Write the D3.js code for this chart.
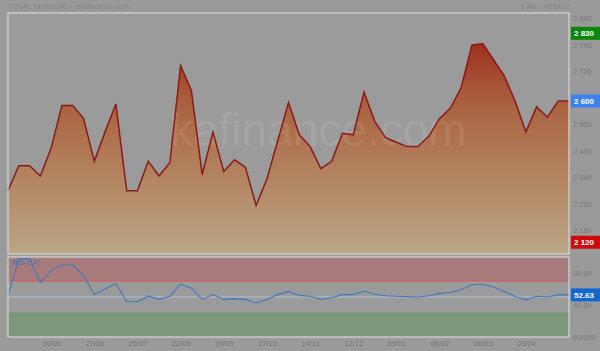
<!DOCTYPE html>
<html>
<head>
<meta charset="utf-8">
<script src="https://cdn.jsdelivr.net/npm/d3@7"></script>
<style>
  body { margin: 0; background: #9a9a9a; }
  svg { display: block; font-family: "Liberation Sans", Arial, sans-serif; }
</style>
</head>
<body>
<script>
// weekly closes, TOTAL SENEGAL, 1 year
var dates = ["2024-05-02","2024-05-09","2024-05-16","2024-05-23","2024-05-30","2024-06-06","2024-06-13","2024-06-20","2024-06-27",
  "2024-07-04","2024-07-11","2024-07-18","2024-07-25","2024-08-01","2024-08-08","2024-08-15","2024-08-22","2024-08-29",
  "2024-09-05","2024-09-12","2024-09-19","2024-09-26","2024-10-03","2024-10-10","2024-10-17","2024-10-24","2024-10-31",
  "2024-11-07","2024-11-14","2024-11-21","2024-11-28","2024-12-05","2024-12-12","2024-12-19","2024-12-26",
  "2025-01-02","2025-01-09","2025-01-16","2025-01-23","2025-01-30","2025-02-06","2025-02-13","2025-02-20","2025-02-27",
  "2025-03-06","2025-03-13","2025-03-20","2025-03-27","2025-04-03","2025-04-10","2025-04-17","2025-04-24","2025-05-01"];

var prices = [2295,2380,2380,2345,2440,2585,2585,2540,2395,2495,2590,2295,2295,2395,2345,2390,2720,2635,
  2350,2495,2360,2400,2375,2245,2335,2465,2595,2485,2445,2370,2395,2490,2485,2630,2530,
  2475,2460,2445,2445,2480,2540,2575,2645,2790,2795,2740,2685,2600,2495,2580,2545,2600,2600];

var rsi = [51,98,98,68,83,90,90,77,53,60,67,44,44,51,47,51,66,61,
  47,53,47,48,47,42.5,47,53,57,52,51,47,49,53,53,57.5,53.5,
  51.5,51,50.5,50,51.5,54.5,56,59,65.5,66,62.5,57,50.5,46.5,51,50,52.6,52.63];

var xTicks = ["2024-05-30","2024-06-27","2024-07-25","2024-08-22","2024-09-19","2024-10-17","2024-11-14",
  "2024-12-12","2025-01-09","2025-02-06","2025-03-06","2025-04-03"];
var yTicks = [2880,2790,2700,2610,2520,2430,2340,2250,2160];
var rsiTicks = [80,40,0];
var rsiTickLabels = ["80.00","40.00","0.0000"];

var lastPrice = 2600, periodHigh = 2830, periodLow = 2120, lastRsi = 52.63;

var W = 600, H = 351;
var left = 8, right = 569;
var mainTop = 13, mainBottom = 254;
var rsiTop = 257, rsiBottom = 337;

var parse = d3.timeParse("%Y-%m-%d");
var data = dates.map(function(d, i) { return {date: parse(d), price: prices[i], rsi: rsi[i]}; });

var svg = d3.select("body").append("svg").attr("width", W).attr("height", H);

svg.append("rect").attr("width", W).attr("height", H).attr("fill", "#9a9a9a");

var x = d3.scaleTime()
    .domain(d3.extent(data, function(d) { return d.date; }))
    .range([left, right]);
var y = d3.scaleLinear().domain([2080, 2899]).range([mainBottom, mainTop]);
var yr = d3.scaleLinear().domain([0, 100]).range([rsiBottom, rsiTop]);

var defs = svg.append("defs");
var grad = defs.append("linearGradient").attr("id", "areaGrad")
    .attr("gradientUnits", "userSpaceOnUse")
    .attr("x1", 0).attr("x2", 0).attr("y1", mainTop).attr("y2", mainBottom);
grad.append("stop").attr("offset", "0%").attr("stop-color", "#981a10");
grad.append("stop").attr("offset", "40%").attr("stop-color", "#ab6542");
grad.append("stop").attr("offset", "100%").attr("stop-color", "#bba786");

// main panel
svg.append("rect")
    .attr("x", left).attr("y", mainTop)
    .attr("width", right - left).attr("height", mainBottom - mainTop)
    .attr("fill", "#9b9b9b");

var area = d3.area()
    .x(function(d) { return x(d.date); })
    .y0(mainBottom)
    .y1(function(d) { return y(d.price); });
var line = d3.line()
    .x(function(d) { return x(d.date); })
    .y(function(d) { return y(d.price); });

svg.append("path").datum(data).attr("d", area).attr("fill", "url(#areaGrad)");

// watermark
svg.append("text")
    .attr("x", 170).attr("y", 146)
    .attr("font-size", 46)
    .attr("fill", "#ffffff").attr("fill-opacity", 0.1)
    .text("kafinance.com");

svg.append("path").datum(data).attr("d", line)
    .attr("fill", "none").attr("stroke", "#8a1a16").attr("stroke-width", 1.5)
    .attr("stroke-linejoin", "miter");

svg.append("rect")
    .attr("x", left).attr("y", mainTop)
    .attr("width", right - left).attr("height", mainBottom - mainTop)
    .attr("fill", "none").attr("stroke", "#d6d6d6").attr("stroke-width", 1.2);

// rsi panel
var rsiG = svg.append("g");
rsiG.append("rect").attr("x", left).attr("y", rsiTop).attr("width", right - left).attr("height", rsiBottom - rsiTop)
    .attr("fill", "#9b9b9b");
rsiG.append("rect").attr("x", left).attr("y", yr(100)).attr("width", right - left).attr("height", yr(70) - yr(100))
    .attr("fill", "#a87c7c");
rsiG.append("rect").attr("x", left).attr("y", yr(30)).attr("width", right - left).attr("height", yr(0) - yr(30))
    .attr("fill", "#7d977d");
rsiG.append("line").attr("x1", left).attr("x2", right).attr("y1", yr(70)).attr("y2", yr(70))
    .attr("stroke", "#d65656").attr("stroke-width", 1);
rsiG.append("line").attr("x1", left).attr("x2", right).attr("y1", yr(30)).attr("y2", yr(30))
    .attr("stroke", "#6e9a6e").attr("stroke-width", 1);
rsiG.append("line").attr("x1", left).attr("x2", right).attr("y1", yr(50)).attr("y2", yr(50))
    .attr("stroke", "#b4c2d2").attr("stroke-width", 1.2);

var rsiLine = d3.line()
    .x(function(d) { return x(d.date); })
    .y(function(d) { return yr(d.rsi); });
rsiG.append("path").datum(data).attr("d", rsiLine)
    .attr("fill", "none").attr("stroke", "#3f78c0").attr("stroke-width", 1.1);

rsiG.append("rect").attr("x", left).attr("y", rsiTop).attr("width", right - left).attr("height", rsiBottom - rsiTop)
    .attr("fill", "none").attr("stroke", "#d6d6d6").attr("stroke-width", 1.2);

rsiG.append("text").attr("x", 12).attr("y", 265)
    .attr("font-size", 7.5).attr("fill", "#3f6fc0").text("RSI (14)");

// axes
var priceFmt = function(v) { return d3.format(",")(v).replace(",", " "); };

var yAxis = svg.append("g")
    .attr("transform", "translate(" + right + ",0)")
    .call(d3.axisRight(y).tickValues(yTicks).tickSize(0).tickPadding(4).tickFormat(priceFmt));
yAxis.select(".domain").remove();
yAxis.selectAll("text").attr("fill", "#787878").attr("font-size", 7.5).attr("font-family", null);

var rAxis = svg.append("g")
    .attr("transform", "translate(" + right + ",0)")
    .call(d3.axisRight(yr).tickValues(rsiTicks).tickSize(0).tickPadding(4)
      .tickFormat(function(d, i) { return rsiTickLabels[i]; }));
rAxis.select(".domain").remove();
rAxis.selectAll("text").attr("fill", "#787878").attr("font-size", 7.5).attr("font-family", null);

var xAxis = svg.append("g")
    .attr("transform", "translate(0," + rsiBottom + ")")
    .call(d3.axisBottom(x).tickValues(xTicks.map(parse)).tickSize(0).tickPadding(4)
      .tickFormat(d3.timeFormat("%d/%m")));
xAxis.select(".domain").remove();
xAxis.selectAll("text").attr("fill", "#787878").attr("font-size", 7.5).attr("font-family", null);

// value tags on the right
function tag(yPos, label, color) {
  var g = svg.append("g").attr("transform", "translate(" + (right + 2) + "," + yPos + ")");
  g.append("rect").attr("x", 0).attr("y", -6.5).attr("width", W - right - 2).attr("height", 13).attr("fill", color);
  g.append("text").attr("x", 3).attr("dy", "0.35em").attr("font-size", 8).attr("font-weight", "bold")
    .attr("fill", "#ffffff").text(label);
}
tag(y(periodHigh), priceFmt(periodHigh), "#0b870b");
tag(y(lastPrice), priceFmt(lastPrice), "#3b82f0");
tag(y(periodLow), priceFmt(periodLow), "#cc0a0a");
tag(yr(lastRsi), d3.format(".2f")(lastRsi), "#1166d6");

// titles
svg.append("text").attr("x", 8).attr("y", 9).attr("font-size", 7.5).attr("fill", "#858585")
    .text("TOTAL SENEGAL - sikafinance.com");
svg.append("text").attr("x", 570).attr("y", 9).attr("text-anchor", "end").attr("font-size", 7.5).attr("fill", "#858585")
    .text("1 AN - HEBDO");
</script>
</body>
</html>
